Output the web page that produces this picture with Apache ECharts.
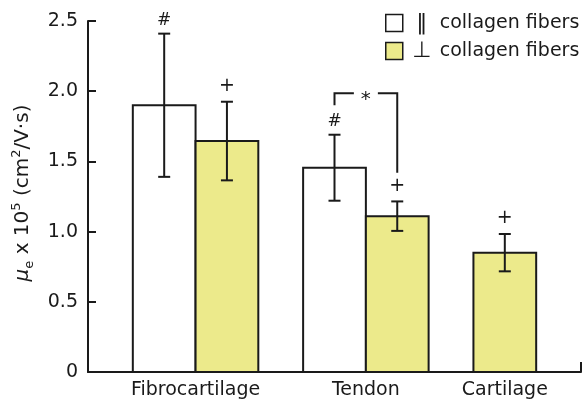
<!DOCTYPE html>
<html>
<head>
<meta charset="utf-8">
<script src="https://cdn.jsdelivr.net/npm/echarts@6/dist/echarts.min.js"></script>
<style>html,body{margin:0;padding:0;background:#fff;}#c{width:584px;height:404px;}</style>
</head>
<body>
<div id="c"></div>
<script>
// ---- data ----
const categories = ['Fibrocartilage', 'Tendon', 'Cartilage'];
const parallelVals = [1.90, 1.455, null];
const parallelErr = [0.51, 0.235, null];
const perpVals = [1.645, 1.11, 0.85];
const perpErr = [0.28, 0.105, 0.133];
const parallelMarks = ['#', '#', null];
const perpMarks = ['+', '+', '+'];
const yTickLabels = ['0', '0.5', '1.0', '1.5', '2.0', '2.5'];
const seriesSymbols = ['\u2016', '\u22A5'];
const seriesLabel = 'collagen fibers';
const seriesNames = ['parallel', 'perpendicular'];
// significance bracket (Tendon: parallel vs perpendicular)
const bracketCategory = 'Tendon';
const bracketLevels = { top: 1.985, leftEnd: 1.90, rightEnd: 1.42 };
const bracketMark = '*';

// ---- layout (axis units) ----
const GAP = 1, BAR = 1.4;
const FONT = 'DejaVu Sans';
const INK = '#1a1a1a';
const YELLOW = '#ECEA8B';

let cursor = 0;
const groups = categories.map((c, i) => {
  cursor += GAP;
  const start = cursor;
  const g = { name: c };
  if (parallelVals[i] != null) { g.par = cursor + BAR / 2; cursor += BAR; }
  if (perpVals[i] != null) { g.perp = cursor + BAR / 2; cursor += BAR; }
  g.center = (start + cursor) / 2;
  return g;
});
const xMax = cursor + GAP;

const parData = [], perpData = [];
categories.forEach((c, i) => {
  if (parallelVals[i] != null) parData.push([groups[i].par, parallelVals[i], parallelErr[i], i]);
  if (perpVals[i] != null) perpData.push([groups[i].perp, perpVals[i], perpErr[i], i]);
});

const markStyle = { '#': { size: 17, gap: 5 }, '+': { size: 19, gap: 6 } };

function makeRender(fill, marks) {
  return function (params, api) {
    const xc = api.value(0), v = api.value(1), e = api.value(2), ci = api.value(3);
    const p0 = api.coord([xc - BAR / 2, 0]);
    const p1 = api.coord([xc + BAR / 2, v]);
    const top = api.coord([xc, v + e]);
    const bot = api.coord([xc, v - e]);
    const cap = 6;
    const children = [
      { type: 'rect', shape: { x: p0[0], y: p1[1], width: p1[0] - p0[0], height: p0[1] - p1[1] },
        style: { fill: fill, stroke: INK, lineWidth: 2 } },
      { type: 'line', shape: { x1: top[0], y1: top[1], x2: bot[0], y2: bot[1] }, style: { stroke: INK, lineWidth: 2 } },
      { type: 'line', shape: { x1: top[0] - cap, y1: top[1], x2: top[0] + cap, y2: top[1] }, style: { stroke: INK, lineWidth: 2 } },
      { type: 'line', shape: { x1: bot[0] - cap, y1: bot[1], x2: bot[0] + cap, y2: bot[1] }, style: { stroke: INK, lineWidth: 2 } }
    ];
    const m = marks[ci];
    if (m) {
      const ms = markStyle[m];
      children.push({ type: 'text', style: { text: m, x: top[0], y: top[1] - ms.gap, align: 'center', verticalAlign: 'bottom',
        font: ms.size + 'px "' + FONT + '"', fill: INK } });
    }
    return { type: 'group', children: children };
  };
}

const bi = categories.indexOf(bracketCategory);
const bracketData = [[groups[bi].par, groups[bi].perp, bracketLevels.leftEnd, bracketLevels.rightEnd, bracketLevels.top]];

const chart = echarts.init(document.getElementById('c'), null, { renderer: 'canvas' });
chart.setOption({
  animation: false,
  grid: { left: 88, right: 3, top: 21, bottom: 32, containLabel: false },
  legend: {
    left: 380, top: 7, orient: 'vertical', itemWidth: 17, itemHeight: 17, itemGap: 6,
    icon: 'rect', selectedMode: false,
    formatter: function (name) {
      const i = seriesNames.indexOf(name);
      return '{sym|' + seriesSymbols[i] + '}{txt|' + seriesLabel + '}';
    },
    textStyle: {
      fontFamily: FONT, fontSize: 19, color: INK,
      rich: {
        sym: { fontFamily: FONT, fontSize: 22, color: INK, width: 20, align: 'center', padding: [0, 0, 0, 4] },
        txt: { fontFamily: FONT, fontSize: 19, color: INK, padding: [0, 0, 0, 8] }
      }
    },
    data: [
      { name: seriesNames[0], itemStyle: { color: '#fff', borderColor: INK, borderWidth: 1.5 } },
      { name: seriesNames[1], itemStyle: { color: YELLOW, borderColor: INK, borderWidth: 1.5 } }
    ]
  },
  xAxis: {
    type: 'value', min: 0, max: xMax,
    splitLine: { show: false },
    axisLine: { show: true, lineStyle: { color: INK, width: 2 } },
    axisTick: { show: true, inside: true, length: 10, customValues: [xMax], lineStyle: { color: INK, width: 2 } },
    axisLabel: {
      customValues: groups.map(g => g.center),
      formatter: function (v) { const g = groups.find(g => Math.abs(g.center - v) < 1e-6); return g ? g.name : ''; },
      fontFamily: FONT, fontSize: 19, color: INK, margin: 9
    }
  },
  yAxis: {
    type: 'value', min: 0, max: 2.5, interval: 0.5,
    splitLine: { show: false },
    axisLine: { show: true, lineStyle: { color: INK, width: 2 } },
    axisTick: { show: true, inside: true, length: 8, lineStyle: { color: INK, width: 2 } },
    axisLabel: {
      formatter: function (v) { return yTickLabels[Math.round(v / 0.5)]; },
      fontFamily: FONT, fontSize: 19, color: INK, margin: 10
    }
  },
  graphic: [{
    type: 'text', x: 23, y: 193, rotation: Math.PI / 2,
    style: {
      text: '{mu|\u03BC}{sub|e}{t| x 10}{sup|5}{t| (cm}{sup|2}{t|/V\u00B7s)}',
      align: 'center', verticalAlign: 'middle', fill: INK,
      rich: {
        mu: { fontFamily: FONT, fontSize: 20, fontStyle: 'italic', lineHeight: 26, verticalAlign: 'middle' },
        t: { fontFamily: FONT, fontSize: 20, lineHeight: 26, verticalAlign: 'middle' },
        sup: { fontFamily: FONT, fontSize: 13, lineHeight: 26, verticalAlign: 'top' },
        sub: { fontFamily: FONT, fontSize: 13, lineHeight: 26, verticalAlign: 'bottom' }
      }
    }
  }],
  series: [
    { name: seriesNames[0], type: 'custom', data: parData, encode: { x: 0, y: 1 },
      itemStyle: { color: '#fff', borderColor: INK }, renderItem: makeRender('#fff', parallelMarks) },
    { name: seriesNames[1], type: 'custom', data: perpData, encode: { x: 0, y: 1 },
      itemStyle: { color: YELLOW, borderColor: INK }, renderItem: makeRender(YELLOW, perpMarks) },
    { name: 'bracket', type: 'custom', data: bracketData, encode: { x: 0, y: 4 },
      renderItem: function (params, api) {
        const xl = api.value(0), xr = api.value(1);
        const a = api.coord([xl, api.value(2)]);
        const t1 = api.coord([xl, api.value(4)]);
        const t2 = api.coord([xr, api.value(4)]);
        const b = api.coord([xr, api.value(3)]);
        const mid = (t1[0] + t2[0]) / 2, hg = 12;
        const st = { stroke: INK, lineWidth: 2, fill: null };
        return { type: 'group', children: [
          { type: 'polyline', shape: { points: [a, t1, [mid - hg, t1[1]]] }, style: st },
          { type: 'polyline', shape: { points: [[mid + hg, t2[1]], t2, b] }, style: st },
          { type: 'text', style: { text: bracketMark, x: mid, y: t1[1] + 6, align: 'center', verticalAlign: 'middle',
            font: '20px "' + FONT + '"', fill: INK } }
        ] };
      } }
  ]
});
</script>
</body>
</html>
